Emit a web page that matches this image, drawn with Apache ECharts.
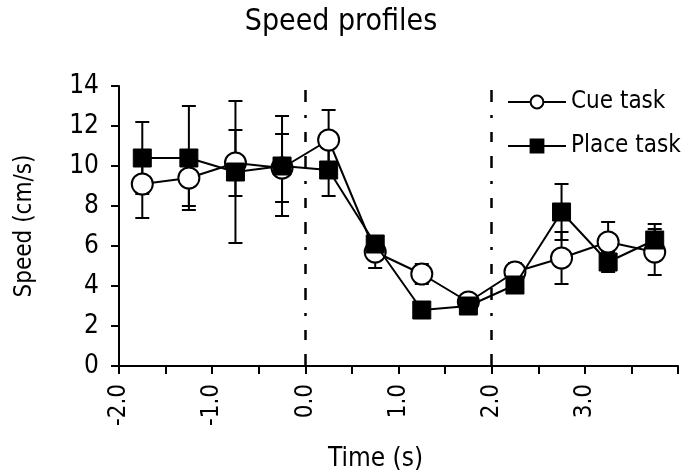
<!DOCTYPE html>
<html>
<head>
<meta charset="utf-8">
<script src="https://cdn.jsdelivr.net/npm/echarts@6/dist/echarts.min.js"></script>
<style>html,body{margin:0;padding:0;background:#fff}#c{width:682px;height:471px}</style>
</head>
<body>
<div id="c"></div>
<script>
// ---- data ----
var times = [-1.75, -1.25, -0.75, -0.25, 0.25, 0.75, 1.25, 1.75, 2.25, 2.75, 3.25, 3.75];
var cueSpeed = [9.1, 9.4, 10.15, 9.9, 11.3, 5.7, 4.6, 3.2, 4.7, 5.4, 6.2, 5.7];
var cueErr = [1.7, 1.4, 1.65, 1.7, 1.5, 0.8, 0.5, 0.3, 0.45, 1.3, 1.0, 1.15];
var placeSpeed = [10.4, 10.4, 9.7, 10.0, 9.8, 6.1, 2.8, 3.0, 4.05, 7.7, 5.2, 6.3];
var placeErr = [1.8, 2.6, 3.55, 2.5, 1.3, 0.4, 0.3, 0.3, 0.3, 1.4, 0.5, 0.8];
var eventTimes = [0, 2];
var seriesNames = ['Cue task', 'Place task'];

var FONT = '"DejaVu Sans Condensed", "DejaVu Sans", sans-serif';

function pairs(xs, ys) { return xs.map(function (x, i) { return [x, ys[i]]; }); }
function triples(xs, ys, es) { return xs.map(function (x, i) { return [x, ys[i], es[i]]; }); }

function errRender(params, api) {
  var x = api.value(0), y = api.value(1), e = api.value(2);
  var top = api.coord([x, y + e]);
  var bot = api.coord([x, y - e]);
  var hw = 7;
  var st = { stroke: '#000', lineWidth: 2 };
  return {
    type: 'group',
    children: [
      { type: 'line', shape: { x1: top[0], y1: top[1], x2: bot[0], y2: bot[1] }, style: st },
      { type: 'line', shape: { x1: top[0] - hw, y1: top[1], x2: top[0] + hw, y2: top[1] }, style: st },
      { type: 'line', shape: { x1: bot[0] - hw, y1: bot[1], x2: bot[0] + hw, y2: bot[1] }, style: st }
    ]
  };
}

var chart = echarts.init(document.getElementById('c'), null, { renderer: 'canvas' });
chart.setOption({
  animation: false,
  backgroundColor: '#fff',
  textStyle: { fontFamily: FONT, color: '#000' },
  title: {
    text: 'Speed profiles', left: 'center', top: 2,
    textStyle: { fontFamily: FONT, fontSize: 30, fontWeight: 'normal', color: '#000' }
  },
  legend: {
    orient: 'vertical', left: 502, top: 85,
    itemWidth: 58, itemHeight: 16, itemGap: 20,
    data: seriesNames,
    textStyle: { fontFamily: FONT, fontSize: 24, color: '#000' }
  },
  grid: { left: 119, right: 4, top: 86, bottom: 105, containLabel: false, outerBoundsMode: 'none' },
  xAxis: {
    type: 'value', min: -2, max: 4, interval: 0.5,
    name: 'Time (s)', nameLocation: 'middle', nameGap: 80,
    nameTextStyle: { fontFamily: FONT, fontSize: 26, color: '#000', padding: [0, 46, 0, 0] },
    axisLine: { onZero: false, lineStyle: { color: '#000', width: 2 } },
    axisTick: { show: true, length: 8, lineStyle: { color: '#000', width: 2 } },
    splitLine: { show: false },
    axisLabel: {
      rotate: 90, margin: 18, fontFamily: FONT, fontSize: 24, color: '#000',
      showMinLabel: true, showMaxLabel: true,
      formatter: function (v) { return (Math.abs(v - Math.round(v)) < 1e-9 && v < 4) ? v.toFixed(1) : ''; }
    }
  },
  yAxis: {
    type: 'value', min: 0, max: 14, interval: 2,
    name: 'Speed (cm/s)', nameLocation: 'middle', nameGap: 82,
    nameTextStyle: { fontFamily: FONT, fontSize: 24, color: '#000' },
    axisLine: { show: true, onZero: false, lineStyle: { color: '#000', width: 2 } },
    axisTick: { show: true, length: 8, lineStyle: { color: '#000', width: 2 } },
    splitLine: { show: false },
    axisLabel: { margin: 20, fontFamily: FONT, fontSize: 26, color: '#000' }
  },
  series: [
    {
      type: 'custom', name: 'cueErr', renderItem: errRender, z: 1, silent: true,
      data: triples(times, cueSpeed, cueErr)
    },
    {
      type: 'custom', name: 'placeErr', renderItem: errRender, z: 1, silent: true,
      data: triples(times, placeSpeed, placeErr)
    },
    {
      type: 'line', name: seriesNames[0], z: 2,
      data: pairs(times, cueSpeed),
      symbol: 'circle', symbolSize: 21, showAllSymbol: true,
      lineStyle: { color: '#000', width: 2 },
      itemStyle: { color: '#fff', borderColor: '#000', borderWidth: 2 },
      emphasis: { disabled: true },
      markLine: {
        silent: true, symbol: ['none', 'none'],
        label: { show: false },
        lineStyle: { color: '#000', width: 2.5, type: [12, 14, 10, 14, 3, 13] },
        data: eventTimes.map(function (t) { return { xAxis: t }; })
      }
    },
    {
      type: 'line', name: seriesNames[1], z: 3,
      data: pairs(times, placeSpeed),
      symbol: 'rect', symbolSize: 18, showAllSymbol: true,
      lineStyle: { color: '#000', width: 2 },
      itemStyle: { color: '#000', borderColor: '#000', borderWidth: 1 },
      emphasis: { disabled: true }
    }
  ]
});
</script>
</body>
</html>
